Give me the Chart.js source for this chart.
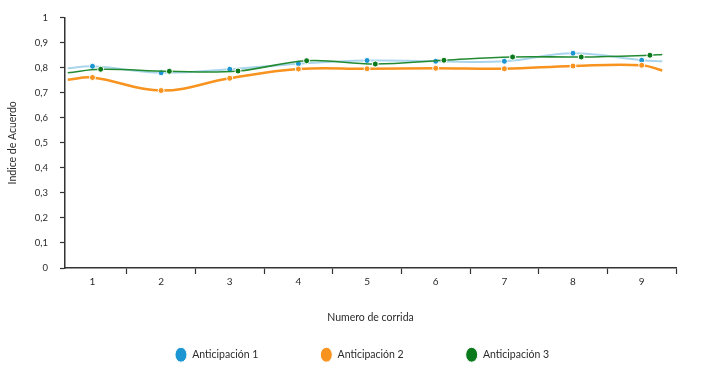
<!DOCTYPE html>
<html>
<head>
<meta charset="utf-8">
<script src="https://cdn.jsdelivr.net/npm/chart.js@4/dist/chart.umd.min.js"></script>
<style>
  html, body { margin: 0; padding: 0; background: #fff; }
  #wrap { width: 702px; height: 374px; }
</style>
</head>
<body>
<div id="wrap"><canvas id="grafico"></canvas></div>
<script>
const corridas = [1, 2, 3, 4, 5, 6, 7, 8, 9];
const anticipacion1 = [0.806, 0.780, 0.794, 0.816, 0.829, 0.826, 0.826, 0.858, 0.830];
const anticipacion2 = [0.761, 0.709, 0.758, 0.795, 0.796, 0.798, 0.796, 0.807, 0.810];
const anticipacion3 = [0.794, 0.786, 0.787, 0.828, 0.815, 0.830, 0.843, 0.843, 0.850];
// where each line starts and ends at the plot edges (no marker there)
const bordes1 = [0.798, 0.826];
const bordes2 = [0.752, 0.789];
const bordes3 = [0.780, 0.853];
const xBordes = [0.64, 9.3];
const yTicks = [0, 0.1, 0.2, 0.3, 0.4, 0.5, 0.6, 0.7, 0.8, 0.9, 1];

const fuente = "Lato, 'Open Sans', sans-serif";
const texto = "#2b2b2b";

function serie(valores, bordes, desplaz) {
  const puntos = [{ x: xBordes[0], y: bordes[0] }];
  corridas.forEach((c, i) => puntos.push({ x: c + desplaz, y: valores[i] }));
  puntos.push({ x: xBordes[1], y: bordes[1] });
  return puntos;
}

function radio(ctx) {
  const n = ctx.dataset.data.length;
  return ctx.dataIndex === 0 || ctx.dataIndex === n - 1 ? 0 : 3;
}

// the legend in the original sits a bit right of centre
const correrLeyenda = {
  id: "correrLeyenda",
  afterLayout(chart) {
    if (chart.legend) chart.legend.left += 48;
  },
};

const datasets = [
  {
    label: "Anticipación 1",
    data: serie(anticipacion1, bordes1, 0.0),
    borderColor: "#a9d5ec",
    borderWidth: 2,
    pointBackgroundColor: "#1c96d2",
    backgroundColor: "#1c96d2",
    pointBorderColor: "#ffffff",
    pointBorderWidth: 1,
    pointRadius: radio,
    tension: 0.4,
    order: 3,
  },
  {
    label: "Anticipación 2",
    data: serie(anticipacion2, bordes2, 0.0),
    borderColor: "#f7931e",
    borderWidth: 2.5,
    pointBackgroundColor: "#f7931e",
    backgroundColor: "#f7931e",
    pointBorderColor: "#ffffff",
    pointBorderWidth: 1,
    pointRadius: radio,
    tension: 0.4,
    order: 2,
  },
  {
    label: "Anticipación 3",
    data: serie(anticipacion3, bordes3, 0.12),
    borderColor: "#228b32",
    borderWidth: 1.6,
    pointBackgroundColor: "#0b7a1c",
    backgroundColor: "#0b7a1c",
    pointBorderColor: "#ffffff",
    pointBorderWidth: 1,
    pointRadius: radio,
    tension: 0.4,
    order: 1,
  },
];

new Chart(document.getElementById("grafico"), {
  type: "line",
  data: { datasets: datasets },
  plugins: [correrLeyenda],
  options: {
    responsive: true,
    maintainAspectRatio: false,
    animation: false,
    layout: { padding: { top: 17, right: 26, left: 0, bottom: 4 } },
    scales: {
      x: {
        type: "linear",
        min: 0.6,
        max: 9.5,
        afterBuildTicks: (scale) => {
          scale.ticks = corridas.map((v) => ({ value: v }));
        },
        afterFit: (scale) => {
          scale.height = 19.5;
        },
        grid: {
          offset: true,
          drawOnChartArea: false,
          drawTicks: true,
          tickLength: 6,
          tickColor: "#333",
          tickWidth: 1.2,
        },
        border: { display: true, color: "#333", width: 1.5 },
        ticks: {
          color: texto,
          font: { family: fuente, size: 10 },
          padding: 2,
          maxRotation: 0,
          callback: (v) => String(v),
        },
        title: {
          display: true,
          text: "Numero de corrida",
          color: texto,
          font: { family: fuente, size: 10.5 },
          padding: { top: 0, bottom: -36 },
        },
      },
      y: {
        min: 0,
        max: 1,
        afterBuildTicks: (scale) => {
          scale.ticks = yTicks.map((v) => ({ value: v }));
        },
        afterFit: (scale) => {
          scale.width = 65;
        },
        grid: {
          drawOnChartArea: false,
          drawTicks: true,
          tickLength: 5,
          tickColor: "#333",
          tickWidth: 1.2,
        },
        border: { display: true, color: "#333", width: 1.5 },
        ticks: {
          color: texto,
          font: { family: fuente, size: 9.5 },
          padding: 12,
          callback: (v) => String(Math.round(v * 10) / 10).replace(".", ","),
        },
        title: {
          display: true,
          text: "Indice de Acuerdo",
          color: texto,
          font: { family: fuente, size: 10.5 },
          padding: { top: 6, bottom: 0 },
        },
      },
    },
    plugins: {
      legend: {
        position: "bottom",
        labels: {
          usePointStyle: true,
          pointStyle: "circle",
          pointStyleWidth: 12,
          color: texto,
          font: { family: fuente, size: 10.5 },
          padding: 62,
          sort: (a, b) => a.datasetIndex - b.datasetIndex,
        },
      },
      tooltip: { enabled: false },
    },
  },
});
</script>
</body>
</html>
